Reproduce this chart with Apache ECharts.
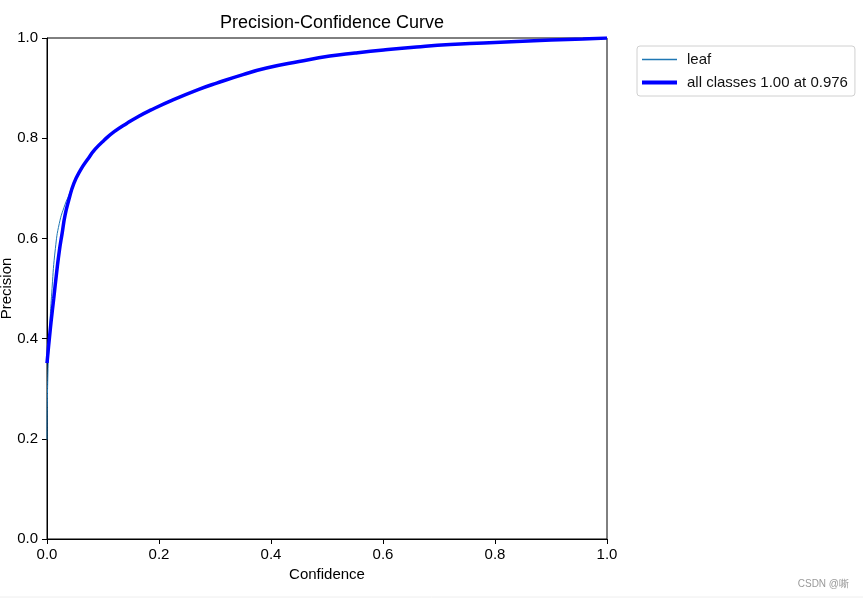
<!DOCTYPE html>
<html>
<head>
<meta charset="utf-8">
<script src="https://cdn.jsdelivr.net/npm/echarts@6/dist/echarts.min.js"></script>
<style>html,body{margin:0;padding:0;background:#fff;}#c{width:863px;height:601px;}</style>
</head>
<body>
<div id="c"></div>
<script>
const chartTitle = 'Precision-Confidence Curve';
const xName = 'Confidence';
const yName = 'Precision';
const leafName = 'leaf';
const allName = 'all classes 1.00 at 0.976';
const leafData = [[0,0.198],[0.001,0.30],[0.004,0.40],[0.009,0.50],[0.015,0.58],[0.022,0.63],[0.032,0.667],[0.039,0.686],[0.048,0.712],[0.06,0.737],[0.072,0.757],[0.086,0.778],[0.102,0.796],[0.12,0.813],[0.143,0.830],[0.164,0.844],[0.185,0.856],[0.224,0.876],[0.27,0.897],[0.303,0.910],[0.35,0.927],[0.392,0.940],[0.45,0.953],[0.505,0.964],[0.55,0.970],[0.601,0.976],[0.66,0.982],[0.72,0.987],[0.78,0.990],[0.839,0.993],[0.9,0.996],[0.957,0.998],[1.0,1.0]];
const allData = [[0,0.351],[0.006,0.42],[0.012,0.48],[0.017,0.53],[0.022,0.575],[0.027,0.61],[0.032,0.645],[0.039,0.677],[0.048,0.710],[0.06,0.737],[0.072,0.757],[0.086,0.778],[0.102,0.796],[0.12,0.813],[0.143,0.830],[0.164,0.844],[0.185,0.856],[0.224,0.876],[0.27,0.897],[0.303,0.910],[0.35,0.927],[0.392,0.940],[0.45,0.953],[0.505,0.964],[0.55,0.970],[0.601,0.976],[0.66,0.982],[0.72,0.987],[0.78,0.990],[0.839,0.993],[0.9,0.996],[0.957,0.998],[1.0,1.0]];
const watermark = 'CSDN @嘶';

const font = 'Liberation Sans, Arial, sans-serif';
const thinIcon = 'path://M0,6.3H35V7.7H0Z M0,0H0.01V0.01H0Z M0,13.99H0.01V14H0Z';
const thickIcon = 'path://M0,5H35V9H0Z M0,0H0.01V0.01H0Z M0,13.99H0.01V14H0Z';
const chart = echarts.init(document.getElementById('c'));
chart.setOption({
  animation: false,
  backgroundColor: '#fff',
  title: {text: chartTitle, left: 327, top: 9, textAlign: 'center',
    textStyle: {fontFamily: font, fontSize: 18, fontWeight: 'normal', color: '#000'}},
  grid: {left: 47, right: 256, top: 38, bottom: 62, containLabel: false, outerBoundsMode: 'none',
    show: true, borderColor: '#000', borderWidth: 1, backgroundColor: 'transparent'},
  legend: {
    orient: 'vertical', left: 637, top: 46, padding: [6, 7, 6, 5], itemGap: 8,
    itemWidth: 35, itemHeight: 14,
    borderColor: '#d0d0d0', borderWidth: 1, borderRadius: 3,
    textStyle: {fontFamily: font, fontSize: 15, color: '#111', padding: [0, 0, 0, 5]},
    data: [{name: leafName, icon: thinIcon}, {name: allName, icon: thickIcon}]
  },
  xAxis: {type: 'value', min: 0, max: 1, interval: 0.2, name: xName, nameLocation: 'middle', nameGap: 28,
    nameTextStyle: {fontFamily: font, fontSize: 15, color: '#000'},
    axisLine: {onZero: false, lineStyle: {color: '#000'}},
    axisTick: {show: true, inside: false, length: 5, lineStyle: {color: '#000'}},
    axisLabel: {fontFamily: font, fontSize: 15, color: '#000', margin: 8, formatter: v => v.toFixed(1)},
    splitLine: {show: false}},
  yAxis: {type: 'value', min: 0, max: 1, interval: 0.2, name: yName, nameLocation: 'middle', nameGap: 33,
    nameTextStyle: {fontFamily: font, fontSize: 15, color: '#000'},
    nameMoveOverlap: false,
    axisLine: {show: true, onZero: false, lineStyle: {color: '#000'}},
    axisTick: {show: true, inside: false, length: 5, lineStyle: {color: '#000'}},
    axisLabel: {fontFamily: font, fontSize: 15, color: '#000', margin: 9, formatter: v => v.toFixed(1)},
    splitLine: {show: false}},
  graphic: [
    {type: 'text', right: 14, top: 579, style: {text: watermark, fontFamily: font, fontSize: 10, fill: '#999'}},
    {type: 'line', shape: {x1: 0, y1: 597, x2: 863, y2: 597}, style: {stroke: '#eee', lineWidth: 1}}
  ],
  series: [
    {name: leafName, type: 'line', data: leafData, showSymbol: false, smooth: true, color: '#1f77b4',
      lineStyle: {width: 1, color: '#1f77b4'}},
    {name: allName, type: 'line', data: allData, showSymbol: false, smooth: true, color: '#0000ff',
      lineStyle: {width: 3.5, color: '#0000ff'}}
  ]
});
</script>
</body>
</html>
